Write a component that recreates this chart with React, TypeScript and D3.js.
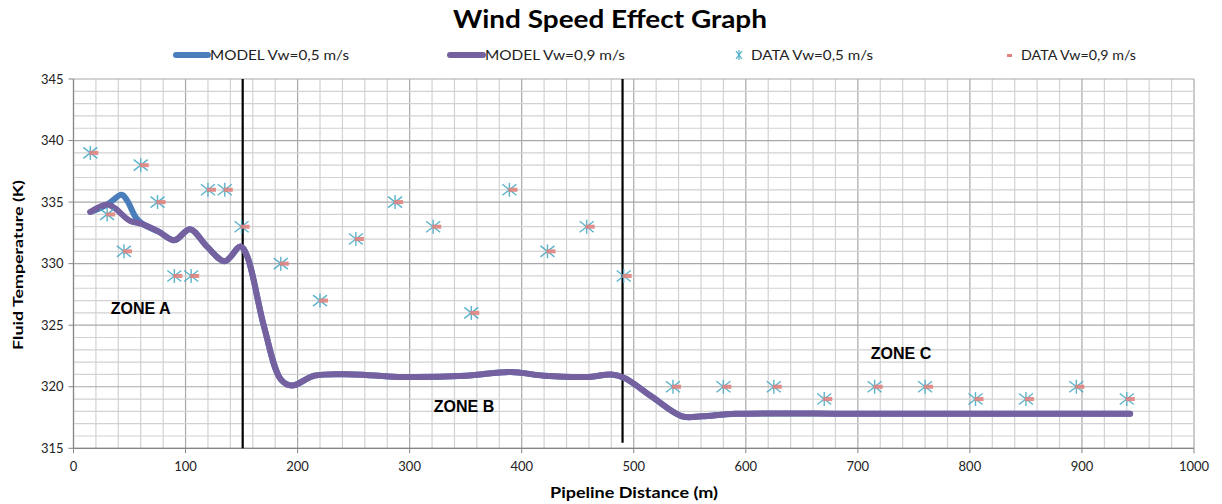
import React from "react";
import * as d3 from "d3";

const dataX05 = [15, 30, 45, 60, 75, 90, 105, 120, 135, 150, 185, 220, 252, 287, 321, 355, 389, 423, 458, 491, 535, 580, 625, 670, 715, 760, 805, 850, 895, 940];
const dataY05 = [339, 334, 331, 338, 335, 329, 329, 336, 336, 333, 330, 327, 332, 335, 333, 326, 336, 331, 333, 329, 320, 320, 320, 319, 320, 320, 319, 319, 320, 319];
const dataY09 = dataY05.slice();

const modelX09 = [15, 30, 37, 50, 62, 76, 90, 104, 119, 135, 149, 155, 170, 185, 195, 215, 250, 290, 350, 390, 420, 460, 480, 492, 516, 543, 561, 591, 700, 800, 943];
const modelY09 = [334.2, 334.8, 334.5, 333.5, 333.2, 332.6, 331.9, 332.8, 331.4, 330.2, 331.4, 330.6, 324.9, 320.6, 320.1, 320.9, 321.0, 320.8, 320.9, 321.2, 320.9, 320.8, 321.0, 320.7, 319.2, 317.6, 317.6, 317.8, 317.8, 317.8, 317.8];
const modelX05 = [15, 30, 43, 48, 56, 62, 76, 90, 104, 119, 135, 149, 155, 170, 185, 195, 215, 250, 290, 350, 390, 420, 460, 480, 492, 516, 543, 561, 591, 700, 800, 943];
const modelY05 = [334.2, 334.8, 335.6, 335.1, 333.7, 333.2, 332.6, 331.9, 332.8, 331.4, 330.2, 331.4, 330.6, 324.9, 320.6, 320.1, 320.9, 321.0, 320.8, 320.9, 321.2, 320.9, 320.8, 321.0, 320.7, 319.2, 317.6, 317.6, 317.8, 317.8, 317.8, 317.8];

const xTicks = [0, 100, 200, 300, 400, 500, 600, 700, 800, 900, 1000];
const yTicks = [315, 320, 325, 330, 335, 340, 345];
const zoneLines = [151, 490];
const zoneLabels = [
  { text: "ZONE A", x: 60, y: 326.4 },
  { text: "ZONE B", x: 348.5, y: 318.4 },
  { text: "ZONE C", x: 738.5, y: 322.75 },
];
const legendLabels = ["MODEL Vw=0,5 m/s", "MODEL Vw=0,9 m/s", "DATA Vw=0,5 m/s", "DATA Vw=0,9 m/s"];

const BLUE = "#4a7ebb";
const PURPLE = "#7560a0";
const TEAL = "#4bacc6";
const RED = "#e0837f";
const FONT = "Lato, 'Open Sans', sans-serif";

export default function App() {
  const W = 1222, H = 504;
  const L = 73.5, R = 1194, T = 79, B = 448.3;
  const x = d3.scaleLinear().domain([0, 1000]).range([L, R]);
  const y = d3.scaleLinear().domain([315, 345]).range([B, T]);

  const minorX = d3.range(0, 1001, 20);
  const minorY = d3.range(315, 346, 1);

  const line = d3
    .line<[number, number]>()
    .x((d) => x(d[0]))
    .y((d) => y(d[1]))
    .curve(d3.curveCatmullRom.alpha(0.5));

  const pts05 = modelX05.map((v, i) => [v, modelY05[i]] as [number, number]);
  const pts09 = modelX09.map((v, i) => [v, modelY09[i]] as [number, number]);

  const star = (cx: number, cy: number, k: string) => (
    <g key={k} stroke={TEAL} strokeWidth={1.4} opacity={0.9}>
      <line x1={cx} y1={cy - 7} x2={cx} y2={cy + 7} />
      <line x1={cx - 7} y1={cy - 5.5} x2={cx + 7} y2={cy + 5.5} />
      <line x1={cx - 7} y1={cy + 5.5} x2={cx + 7} y2={cy - 5.5} />
    </g>
  );

  const legendText = (label: string, lx: number, len: number) => (
    <text x={lx} y={60} fontFamily={FONT} fontSize={13} fill="#222" textLength={len} lengthAdjust="spacingAndGlyphs">{label}</text>
  );

  return (
    <svg width={W} height={H} style={{ position: "absolute", left: 0, top: 0, background: "#fff" }}>
      {minorX.map((v) => (
        <line key={"gx" + v} x1={x(v)} x2={x(v)} y1={T} y2={B} stroke={v % 100 === 0 ? "#a8a8a8" : "#d2d2d2"} strokeWidth={1.2} />
      ))}
      {minorY.map((v) => (
        <line key={"gy" + v} x1={L} x2={R} y1={y(v)} y2={y(v)} stroke={v % 5 === 0 ? "#a8a8a8" : "#d2d2d2"} strokeWidth={1.2} />
      ))}
      <line x1={L} x2={L} y1={T} y2={B} stroke="#868686" strokeWidth={1.2} />
      <line x1={L} x2={R} y1={B} y2={B} stroke="#868686" strokeWidth={1.2} />
      {yTicks.map((v) => (
        <g key={"yt" + v}>
          <line x1={L - 5} x2={L} y1={y(v)} y2={y(v)} stroke="#868686" />
          <text x={L - 10} y={y(v)} dy="0.35em" textAnchor="end" fontFamily={FONT} fontSize={13} fill="#222">{v}</text>
        </g>
      ))}
      {xTicks.map((v) => (
        <g key={"xt" + v}>
          <line x1={x(v)} x2={x(v)} y1={B} y2={B + 5} stroke="#868686" />
          <text x={x(v)} y={B + 23} textAnchor="middle" fontFamily={FONT} fontSize={13} fill="#222">{v}</text>
        </g>
      ))}
      {zoneLines.map((v, i) => (
        <line key={"zl" + v} x1={x(v)} x2={x(v)} y1={T} y2={i === 0 ? B : y(315.45)} stroke="#000" strokeWidth={2.2} />
      ))}
      <path d={line(pts05) || ""} fill="none" stroke={BLUE} strokeWidth={6} strokeLinecap="round" strokeLinejoin="round" />
      <path d={line(pts09) || ""} fill="none" stroke={PURPLE} strokeWidth={6} strokeLinecap="round" strokeLinejoin="round" />
      {dataX05.map((v, i) => star(x(v), y(dataY05[i]), "s" + i))}
      {dataX05.map((v, i) => (
        <rect key={"r" + i} x={x(v) - 1} y={y(dataY09[i]) - 2} width={9} height={4} fill={RED} opacity={0.9} />
      ))}
      {zoneLabels.map((z) => (
        <text key={z.text} x={x(z.x)} y={y(z.y)} dy="0.36em" textAnchor="middle" fontFamily="'Liberation Sans', Arial, sans-serif" fontWeight="bold" fontSize={16} fill="#000">{z.text}</text>
      ))}
      <text x={453} y={28} fontFamily={FONT} fontWeight="bold" fontSize={24} fill="#000" textLength={314} lengthAdjust="spacingAndGlyphs">Wind Speed Effect Graph</text>
      <line x1={176} x2={208} y1={55} y2={55} stroke={BLUE} strokeWidth={6} strokeLinecap="round" />
      {legendText(legendLabels[0], 210, 139)}
      <line x1={450} x2={483} y1={55} y2={55} stroke={PURPLE} strokeWidth={6} strokeLinecap="round" />
      {legendText(legendLabels[1], 485, 140)}
      <g stroke={TEAL} strokeWidth={1.2}>
        <line x1={739} x2={739} y1={50} y2={60} />
        <line x1={736} x2={742} y1={51} y2={59} />
        <line x1={736} x2={742} y1={59} y2={51} />
      </g>
      {legendText(legendLabels[2], 751, 122)}
      <rect x={1007} y={54} width={5} height={3} fill={RED} />
      {legendText(legendLabels[3], 1021, 115)}
      <text x={550} y={498} fontFamily={FONT} fontWeight="bold" fontSize={15} fill="#000" textLength={168} lengthAdjust="spacingAndGlyphs">Pipeline Distance (m)</text>
      <text transform={`translate(23,350) rotate(-90)`} fontFamily={FONT} fontWeight="bold" fontSize={14} fill="#000" textLength={170} lengthAdjust="spacingAndGlyphs">Fluid Temperature (K)</text>
    </svg>
  );
}
